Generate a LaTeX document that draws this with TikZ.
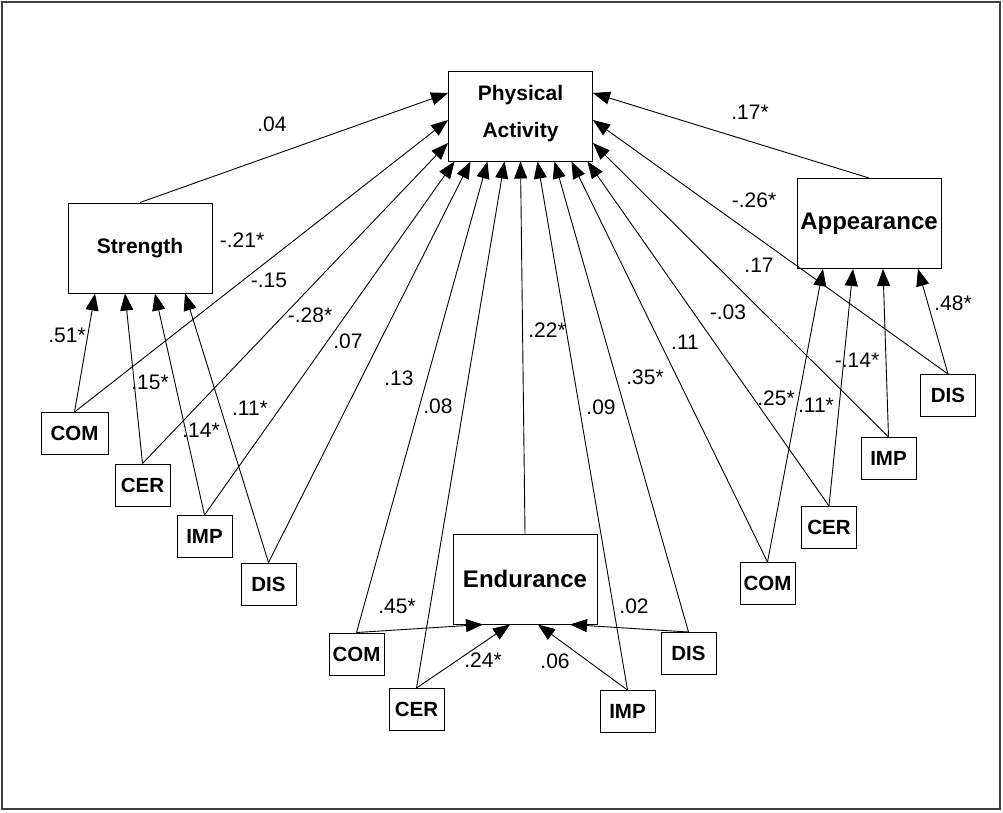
\documentclass[tikz,border=0pt]{standalone}
\usepackage{fontspec}
\setmainfont{Liberation Sans}
\usepackage{tikz}
\usetikzlibrary{arrows.meta}

\begin{document}
\begin{tikzpicture}[
  x=1pt, y=-1pt,
  font=\fontsize{21}{25}\selectfont,
  factor/.style={draw, line width=1pt, minimum width=144pt,
    minimum height=90pt, inner sep=0pt, align=center,
    font=\bfseries\fontsize{21}{37}\selectfont},
  obs/.style={draw, line width=1pt, minimum width=55pt,
    minimum height=42pt, inner sep=0pt,
    font=\bfseries\fontsize{20.5}{24}\selectfont},
  coef/.style={inner sep=0pt},
  arrow/.style={-{Triangle[length=17pt, width=13pt]}, line width=0.9pt},
]
  \useasboundingbox (0,0) rectangle (1003,812);
  \draw[line width=2pt, black!75] (2,2) rectangle (1000,809);

  \node[factor, text depth=10pt] (pa) at (520.5,116) {Physical\\Activity};
  \node[factor] (str) at (140,248)   {Strength};
  \node[factor, font=\bfseries\fontsize{24}{28}\selectfont] (app) at (869,223.5) {Appearance};
  \node[factor, font=\bfseries\fontsize{24}{28}\selectfont] (end) at (525,579)   {Endurance};

  \node[obs, minimum width=67pt] (sCOM) at (74.5,433.5) {COM};
  \node[obs] (sCER) at (142.5,485)   {CER};
  \node[obs] (sIMP) at (204.5,536.5) {IMP};
  \node[obs] (sDIS) at (268.5,584)   {DIS};
  \node[obs] (aDIS) at (948,395.5)   {DIS};
  \node[obs] (aIMP) at (888.5,458.5) {IMP};
  \node[obs] (aCER) at (829,527.5)   {CER};
  \node[obs] (aCOM) at (767.5,583.5) {COM};
  \node[obs] (eCOM) at (356.5,654)   {COM};
  \node[obs] (eCER) at (416.5,709.5) {CER};
  \node[obs] (eIMP) at (627.5,711.5) {IMP};
  \node[obs] (eDIS) at (688.5,653.5) {DIS};

  \draw[arrow] (str.north)  -- ([yshift=23pt]pa.west);
  \draw[arrow] (sCOM.north) -- ([yshift=-4pt]pa.west);
  \draw[arrow] (sCER.north) -- ([yshift=-27pt]pa.west);
  \draw[arrow] (sIMP.north) -- ([xshift=-66pt]pa.south);
  \draw[arrow] (sDIS.north) -- ([xshift=-50pt]pa.south);
  \draw[arrow] (eCOM.north) -- ([xshift=-33pt]pa.south);
  \draw[arrow] (eCER.north) -- ([xshift=-16pt]pa.south);
  \draw[arrow] (end.north)  -- (pa.south);
  \draw[arrow] (eIMP.north) -- ([xshift=17pt]pa.south);
  \draw[arrow] (eDIS.north) -- ([xshift=34pt]pa.south);
  \draw[arrow] (aCOM.north) -- ([xshift=51pt]pa.south);
  \draw[arrow] (aCER.north) -- ([xshift=67pt]pa.south);
  \draw[arrow] (aIMP.north) -- ([yshift=-27pt]pa.east);
  \draw[arrow] (aDIS.north) -- ([yshift=-4pt]pa.east);
  \draw[arrow] (app.north)  -- ([yshift=23pt]pa.east);

  \draw[arrow] (sCOM.north) -- ([xshift=-45pt]str.south);
  \draw[arrow] (sCER.north) -- ([xshift=-15pt]str.south);
  \draw[arrow] (sIMP.north) -- ([xshift=15pt]str.south);
  \draw[arrow] (sDIS.north) -- ([xshift=45pt]str.south);
  \draw[arrow] (aCOM.north) -- ([xshift=-46pt]app.south);
  \draw[arrow] (aCER.north) -- ([xshift=-16pt]app.south);
  \draw[arrow] (aIMP.north) -- ([xshift=14pt]app.south);
  \draw[arrow] (aDIS.north) -- ([xshift=49pt]app.south);
  \draw[arrow] (eCOM.north) -- ([xshift=-42pt]end.south);
  \draw[arrow] (eCER.north) -- ([xshift=-15pt]end.south);
  \draw[arrow] (eIMP.north) -- ([xshift=13pt]end.south);
  \draw[arrow] (eDIS.north) -- ([xshift=45pt]end.south);

  \node[coef] (cStrPA)  at (272,124) {.04};
  \node[coef] (csCOMPA) at (242,240) {-.21*};
  \node[coef] (csCERPA) at (269,280) {-.15};
  \node[coef] (csIMPPA) at (310,315) {-.28*};
  \node[coef] (csDISPA) at (348,341) {.07};
  \node[coef] (ceCOMPA) at (399,378) {.13};
  \node[coef] (ceCERPA) at (438,406) {.08};
  \node[coef] (cEndPA)  at (547,330) {.22*};
  \node[coef] (ceIMPPA) at (601,407) {.09};
  \node[coef] (ceDISPA) at (645,377) {.35*};
  \node[coef] (caCOMPA) at (685,342) {.11};
  \node[coef] (caCERPA) at (728,312) {-.03};
  \node[coef] (caIMPPA) at (759,265) {.17};
  \node[coef] (caDISPA) at (754,200) {-.26*};
  \node[coef] (cAppPA)  at (750,112) {.17*};
  \node[coef] (csCOM)   at (67,335)  {.51*};
  \node[coef] (csCER)   at (150,382) {.15*};
  \node[coef] (csIMP)   at (201,430) {.14*};
  \node[coef] (csDIS)   at (250,408) {.11*};
  \node[coef] (caCOM)   at (776,398) {.25*};
  \node[coef] (caCER)   at (816,405) {.11*};
  \node[coef] (caIMP)   at (857,360) {-.14*};
  \node[coef] (caDIS)   at (953,303) {.48*};
  \node[coef] (ceCOM)   at (397,606) {.45*};
  \node[coef] (ceCER)   at (483,660) {.24*};
  \node[coef] (ceIMP)   at (555,661) {.06};
  \node[coef] (ceDIS)   at (634,606) {.02};
\end{tikzpicture}
\end{document}
